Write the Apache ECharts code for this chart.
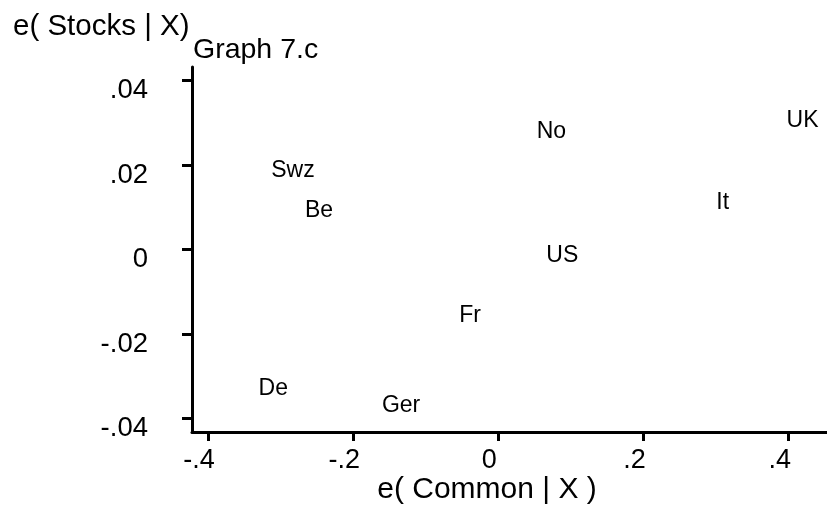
<!DOCTYPE html>
<html>
<head>
<meta charset="utf-8">
<script src="https://cdn.jsdelivr.net/npm/echarts@6/dist/echarts.min.js"></script>
<style>
  html, body { margin: 0; padding: 0; background: #fff; }
  #chart { width: 827px; height: 505px; }
</style>
</head>
<body>
<div id="chart"></div>
<script>
// residuals from the added-variable plot, one label per country
const countries = ['Swz', 'Be', 'De', 'Ger', 'No', 'UK', 'It', 'US', 'Fr']
const eCommon = [-0.283, -0.247, -0.310, -0.134, 0.073, 0.419, 0.309, 0.088, -0.039]
const eStocks = [0.0186, 0.0093, -0.0330, -0.0370, 0.0280, 0.0304, 0.0112, -0.0015, -0.0157]

const xTicks = [-0.4, -0.2, 0, 0.2, 0.4]
const yTicks = [-0.04, -0.02, 0, 0.02, 0.04]

const FONT = '"Liberation Sans", Arial, Helvetica, sans-serif'

// Stata style tick text: ".2", "-.04", "0"
function stataNum(v) {
    if (Math.abs(v) < 1e-9) return '0'
    let s = String(Math.round(v * 1000) / 1000)
    return s.replace(/^(-?)0\./, '$1.')
}

let chart = echarts.init(document.getElementById('chart'), null, { renderer: 'canvas' })

const points = countries.map(function (c, i) {
    return [eCommon[i], eStocks[i], c]
})

const option = {
    backgroundColor: '#ffffff',
    animation: false,
    textStyle: { fontFamily: FONT, color: '#000' },
    grid: {
        left: 192,
        top: 67,
        right: 0,
        bottom: 73,
        containLabel: false
    },
    graphic: [
        {
            type: 'text',
            x: 13,
            y: 27,
            style: {
                text: 'e( Stocks | X)',
                fontFamily: FONT,
                fontSize: 29.5,
                fill: '#000',
                align: 'left',
                verticalAlign: 'middle'
            }
        },
        {
            type: 'text',
            x: 193,
            y: 50,
            style: {
                text: 'Graph 7.c',
                fontFamily: FONT,
                fontSize: 28.5,
                fill: '#000',
                align: 'left',
                verticalAlign: 'middle'
            }
        },
        {
            type: 'text',
            x: 487,
            y: 490,
            style: {
                text: 'e( Common | X )',
                fontFamily: FONT,
                fontSize: 30,
                fill: '#000',
                align: 'center',
                verticalAlign: 'middle'
            }
        }
    ],
    xAxis: {
        type: 'value',
        min: -0.422,
        max: 0.4527,
        splitLine: { show: false },
        axisLine: { show: true, onZero: false, lineStyle: { color: '#000', width: 3 } },
        axisTick: {
            show: true,
            length: 9,
            customValues: xTicks,
            lineStyle: { color: '#000', width: 3 }
        },
        axisLabel: {
            customValues: xTicks,
            formatter: stataNum,
            fontFamily: FONT,
            fontSize: 27,
            color: '#000',
            margin: 29,
            verticalAlign: 'middle',
            padding: [0, 18, 0, 0]
        }
    },
    yAxis: {
        type: 'value',
        min: -0.0432,
        max: 0.0432,
        splitLine: { show: false },
        axisLine: { show: true, onZero: false, lineStyle: { color: '#000', width: 3 } },
        axisTick: {
            show: true,
            length: 10,
            customValues: yTicks,
            lineStyle: { color: '#000', width: 3 }
        },
        axisLabel: {
            customValues: yTicks,
            formatter: stataNum,
            fontFamily: FONT,
            fontSize: 27.5,
            color: '#000',
            margin: 44,
            verticalAlign: 'top',
            lineHeight: 20
        }
    },
    series: [
        {
            type: 'scatter',
            symbolSize: 0,
            data: points,
            itemStyle: { opacity: 1 },
            label: {
                show: true,
                position: 'inside',
                formatter: function (p) { return p.data[2] },
                fontFamily: FONT,
                fontSize: 23,
                color: '#000',
                opacity: 1
            },
            emphasis: { disabled: true }
        }
    ]
}

chart.setOption(option)
</script>
</body>
</html>
